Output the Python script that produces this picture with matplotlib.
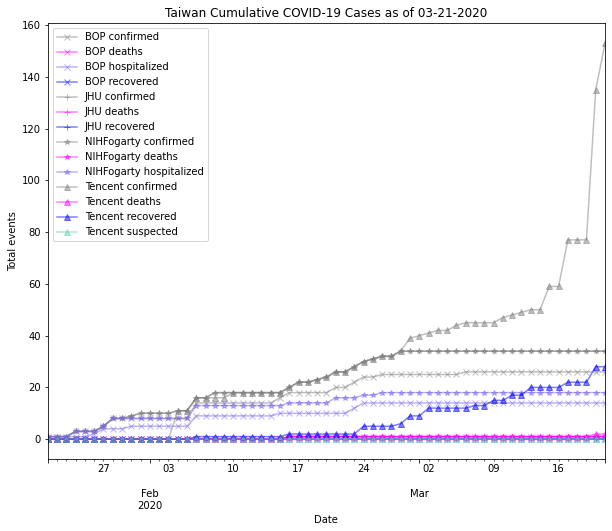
import pandas as pd
import matplotlib
matplotlib.use('Agg')
import matplotlib.pyplot as plt

# dates: 01-21-2020 .. 03-21-2020 (daily)
dates = pd.date_range('2020-01-21', '2020-03-21', freq='D', name='Date')

# values, one per day
nih_confirmed = ([1] * 3 + [3] * 3 + [5] + [8] * 2 + [9] + [10] * 4 + [11] * 2 + [16] * 2 + [18] * 8
                 + [20] + [22] * 2 + [23] + [24] + [26] * 2 + [28] + [30] + [31] + [32] * 2 + [34] * 23)
jhu_confirmed = [None] + nih_confirmed[1:]
tencent_confirmed = ([0] * 14 + [11] * 2 + [16] * 4 + [18] * 6 + [20] + [22] * 2 + [23] + [24] + [26] * 2
                     + [28] + [30] + [31] + [32] * 2 + [34]
                     + [39, 40, 41, 42, 42, 44, 45, 45, 45, 45, 47, 48, 49, 50, 50, 59, 59, 77, 77, 77, 135, 153])
bop_confirmed = ([1] * 3 + [3] * 3 + [5] + [8] * 9 + [14] * 9 + [16] + [18] * 5 + [20] * 2 + [22]
                 + [24] * 2 + [25] * 9 + [26] * 16)

bop_hospitalized = [1] * 5 + [2] + [4] * 3 + [5] * 7 + [9] * 9 + [10] * 8 + [12] + [14] * 27
nih_hospitalized = [1] * 3 + [3] * 3 + [5] + [8] * 9 + [13] * 10 + [14] * 5 + [16] * 3 + [17] * 2 + [18] * 25

bop_deaths = [0] * 26 + [1] * 35
jhu_deaths = [0] * 26 + [1] * 35
nih_deaths = [0] * 26 + [1] * 35
tencent_deaths = [0] * 26 + [1] * 33 + [2] * 2

bop_recovered = [0] * 61
jhu_recovered = [0] * 61
tencent_recovered = ([0] * 16 + [1] * 10 + [2] * 8 + [5] * 4 + [6] + [9] * 2 + [12] * 5 + [13] * 2
                     + [15] * 2 + [17] * 2 + [20] * 4 + [22] * 3 + [28] * 2)
tencent_suspected = [0] * 61

df = pd.DataFrame({
    'BOP confirmed': bop_confirmed,
    'BOP deaths': bop_deaths,
    'BOP hospitalized': bop_hospitalized,
    'BOP recovered': bop_recovered,
    'JHU confirmed': jhu_confirmed,
    'JHU deaths': jhu_deaths,
    'JHU recovered': jhu_recovered,
    'NIHFogarty confirmed': nih_confirmed,
    'NIHFogarty deaths': nih_deaths,
    'NIHFogarty hospitalized': nih_hospitalized,
    'Tencent confirmed': tencent_confirmed,
    'Tencent deaths': tencent_deaths,
    'Tencent recovered': tencent_recovered,
    'Tencent suspected': tencent_suspected,
}, index=dates).astype(float)

markers = {'BOP': 'x', 'JHU': '+', 'NIHFogarty': '*', 'Tencent': '^'}
colors = {'confirmed': 'gray', 'deaths': 'magenta', 'hospitalized': 'mediumslateblue',
          'recovered': 'blue', 'suspected': 'mediumaquamarine'}

fig, ax = plt.subplots(figsize=(612 / 72, 531 / 72), dpi=72)
fig.subplots_adjust(left=0.078, right=0.9886, top=0.956, bottom=0.1356)

for col in df.columns:
    source, kind = col.split(' ')
    df[col].plot(ax=ax, marker=markers[source], color=colors[kind], alpha=0.5, label=col)

ax.set_ylabel('Total events')
ax.set_xlabel('Date')
ax.set_title('Taiwan Cumulative COVID-19 Cases as of 03-21-2020')
ax.legend(loc='upper left')

plt.savefig('out.png', dpi=72)
